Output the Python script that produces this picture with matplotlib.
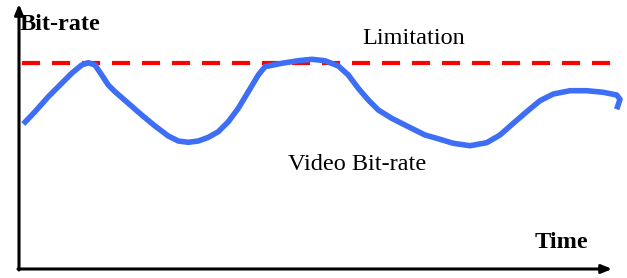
import matplotlib.pyplot as plt
import numpy as np

plt.rcParams['font.family'] = ['Liberation Serif', 'DejaVu Serif']
plt.rcParams['lines.scale_dashes'] = False

# video bit-rate curve (time, bit-rate)
t = [4.3, 16, 29.3, 42.7, 52.7, 62.7, 69.3, 76, 82.7, 89.3, 96, 109.3, 122.7,
     136, 149.3, 159.3, 169.3, 179.3, 189.3, 199.3, 209.3, 219.3, 229.3, 239.3,
     246, 262.7, 279.3, 292.7, 306, 319.3, 329.3, 339.3, 349.3, 359.3, 372.7,
     389.3, 406, 417.7, 434.3, 451, 467.7, 481, 494.3, 507.7, 521, 534.3, 551,
     567.7, 584.3, 597.7, 601, 597.7]
rate = [145, 157.3, 172.3, 185.7, 195.7, 204, 206.3, 204, 194, 184, 177.3, 165.7,
        154, 143, 133, 128, 126.7, 128, 131.7, 137.3, 147.3, 160.7, 177.3, 194,
        202.3, 205.7, 208.3, 209.7, 208.3, 203, 194, 180.7, 169, 159, 150.7,
        142.3, 134, 130.7, 125.7, 123.3, 126.3, 134, 145.7, 157.3, 168.3, 175,
        178.3, 178.3, 176.7, 174, 169.7, 159.7]

limit = 206
limit_span = [3, 594]

fig = plt.figure(figsize=(6.27, 2.78), dpi=100)
ax = fig.add_axes([19 / 627, 9 / 278, 608 / 627, 269 / 278])
ax.set_xlim(0, 608)
ax.set_ylim(0, 269)
ax.axis('off')

# axes with arrows
ax.annotate('', xy=(0, 265), xytext=(0, -1),
            arrowprops=dict(arrowstyle='-|>,head_length=0.6,head_width=0.25',
                            lw=2.2, color='black', shrinkA=0, shrinkB=0))
ax.annotate('', xy=(593, 0), xytext=(-1, 0),
            arrowprops=dict(arrowstyle='-|>,head_length=0.6,head_width=0.25',
                            lw=2.2, color='black', shrinkA=0, shrinkB=0))

ax.plot(limit_span, [limit, limit], color='#ff0000', lw=3.0,
        dashes=(13, 8.6))
ax.plot(t, rate, color='#3d6ef5', lw=4.0, solid_joinstyle='round',
        solid_capstyle='butt')

ax.text(1, 244, 'Bit-rate', fontsize=17.5, fontweight='bold', va='center', ha='left')
ax.text(343, 230, 'Limitation', fontsize=17.5, va='center', ha='left')
ax.text(269, 104, 'Video Bit-rate', fontsize=17.5, va='center', ha='left')
ax.text(516, 26, 'Time', fontsize=17.5, fontweight='bold', va='center', ha='left')

fig.savefig('out.png', dpi=100)
